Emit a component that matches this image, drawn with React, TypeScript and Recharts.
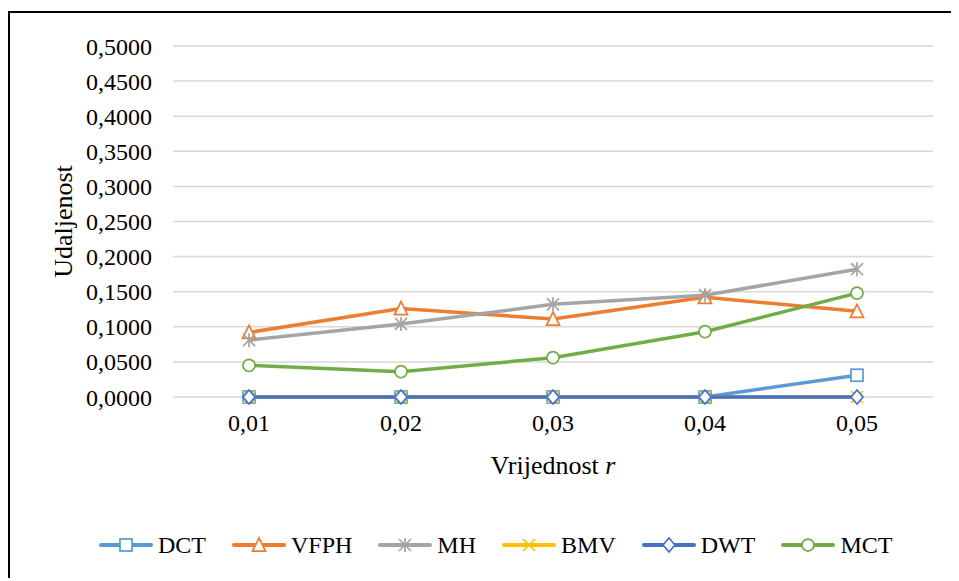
import React from 'react';
import { LineChart, Line, XAxis, YAxis, CartesianGrid, Legend, Label } from 'recharts';

// values
const categories = ['0,01', '0,02', '0,03', '0,04', '0,05'];
const dct = [0, 0, 0, 0, 0.031];
const vfph = [0.092, 0.126, 0.111, 0.142, 0.122];
const mh = [0.081, 0.104, 0.132, 0.145, 0.182];
const bmv = [0, 0, 0, 0, 0];
const dwt = [0, 0, 0, 0, 0];
const mct = [0.045, 0.036, 0.056, 0.093, 0.148];
const yTicks = [0, 0.05, 0.1, 0.15, 0.2, 0.25, 0.3, 0.35, 0.4, 0.45, 0.5];

const series = [
  { key: 'dct', name: 'DCT', color: '#5B9BD5', shape: 'square', values: dct },
  { key: 'vfph', name: 'VFPH', color: '#ED7D31', shape: 'triangle', values: vfph },
  { key: 'mh', name: 'MH', color: '#A5A5A5', shape: 'star', values: mh },
  { key: 'bmv', name: 'BMV', color: '#FFC000', shape: 'x', values: bmv },
  { key: 'dwt', name: 'DWT', color: '#4472C4', shape: 'diamond', values: dwt },
  { key: 'mct', name: 'MCT', color: '#70AD47', shape: 'circle', values: mct },
];

const data = categories.map((name, i) => {
  const row: Record<string, any> = { name };
  series.forEach((s) => (row[s.key] = s.values[i]));
  return row;
});

const FONT = '"Liberation Serif"';
const css = `
  .chart-box, .chart-box text, .chart-box tspan, .chart-box div, .chart-box span {
    font-family: "Liberation Serif", "Times New Roman", serif !important;
  }
`;

function Marker({ shape, cx, cy, color }: { shape: string; cx: number; cy: number; color: string }) {
  const s = 6;
  const common = { stroke: color, strokeWidth: 1.75, fill: '#fff' };
  if (cx == null || cy == null) return null;
  switch (shape) {
    case 'square':
      return <rect x={cx - s} y={cy - s} width={2 * s} height={2 * s} {...common} />;
    case 'triangle':
      return <polygon points={`${cx},${cy - s - 1} ${cx + s + 0.5},${cy + s} ${cx - s - 0.5},${cy + s}`} {...common} />;
    case 'diamond':
      return <polygon points={`${cx},${cy - s - 1} ${cx + s},${cy} ${cx},${cy + s + 1} ${cx - s},${cy}`} {...common} />;
    case 'circle':
      return <circle cx={cx} cy={cy} r={s} {...common} />;
    case 'x':
      return (
        <g stroke={color} strokeWidth={1.75}>
          <line x1={cx - s} y1={cy - s} x2={cx + s} y2={cy + s} />
          <line x1={cx - s} y1={cy + s} x2={cx + s} y2={cy - s} />
        </g>
      );
    case 'star':
      return (
        <g stroke={color} strokeWidth={1.75}>
          <line x1={cx} y1={cy - s - 1} x2={cx} y2={cy + s + 1} />
          <line x1={cx - s} y1={cy - s} x2={cx + s} y2={cy + s} />
          <line x1={cx - s} y1={cy + s} x2={cx + s} y2={cy - s} />
        </g>
      );
    default:
      return null;
  }
}

const renderLegend = () => (
  <div style={{ display: 'flex', alignItems: 'center', height: 40, fontFamily: FONT, fontSize: 24, color: '#000' }}>
    {series.map((s) => (
      <div key={s.key} style={{ display: 'flex', alignItems: 'center', marginRight: 26 }}>
        <svg width={54} height={18}>
          <line x1={2} y1={9} x2={52} y2={9} stroke={s.color} strokeWidth={4} strokeLinecap="round" />
          <Marker shape={s.shape} cx={27} cy={9} color={s.color} />
        </svg>
        <span style={{ marginLeft: 5 }}>{s.name}</span>
      </div>
    ))}
  </div>
);

const YTitle = (props: any) => {
  const vb = props.viewBox || { x: 0, y: 33, width: 163, height: 351 };
  const cx = vb.x + 53;
  const cy = vb.y + vb.height / 2;
  return (
    <text x={cx} y={cy} transform={`rotate(-90 ${cx} ${cy})`} textAnchor="middle" dominantBaseline="central"
      fontFamily={FONT} fontSize={26} fill="#000">
      Udaljenost
    </text>
  );
};

const XTitle = (props: any) => {
  const vb = props.viewBox || { x: 163, y: 384, width: 760, height: 60 };
  const cx = vb.x + vb.width / 2;
  return (
    <text x={cx} y={vb.y + 77} textAnchor="middle" fontFamily={FONT} fontSize={26} fill="#000">
      Vrijednost <tspan fontStyle="italic">r</tspan>
    </text>
  );
};

export default function App() {
  return (
    <div className="chart-box" style={{ paddingTop: 3, width: 943, overflow: 'hidden' }}>
      <style>{css}</style>
      <div style={{ borderLeft: '2px solid #000', borderTop: '2px solid #000', width: 941, height: 565 }}>
        <LineChart width={940} height={560} data={data} margin={{ top: 33, right: 17, left: 0, bottom: 76 }}>
          <CartesianGrid vertical={false} stroke="#D9D9D9" strokeWidth={1.5} />
          <XAxis dataKey="name" height={60} axisLine={false} tickLine={false} tickSize={0} tickMargin={17}
            padding={{ left: 76, right: 76 }}
            tick={{ fill: '#000', fontSize: 24, fontFamily: FONT }}>
            <Label content={<XTitle />} />
          </XAxis>
          <YAxis width={163} domain={[0, 0.5]} ticks={yTicks} interval={0} axisLine={false} tickLine={false}
            tickSize={0} tickMargin={21} tickFormatter={(v: number) => v.toFixed(4).replace('.', ',')}
            tick={{ fill: '#000', fontSize: 24, fontFamily: FONT }}>
            <Label content={<YTitle />} />
          </YAxis>
          <Legend verticalAlign="bottom" content={renderLegend} wrapperStyle={{ left: 89, bottom: 8, width: 850 }} />
          {series.map((s) => (
            <Line key={s.key} type="linear" dataKey={s.key} name={s.name} stroke={s.color} strokeWidth={3.5}
              isAnimationActive={false}
              dot={(p: any) => <Marker key={`${s.key}-${p.index}`} shape={s.shape} cx={p.cx} cy={p.cy} color={s.color} />}
              activeDot={false} />
          ))}
        </LineChart>
      </div>
    </div>
  );
}
